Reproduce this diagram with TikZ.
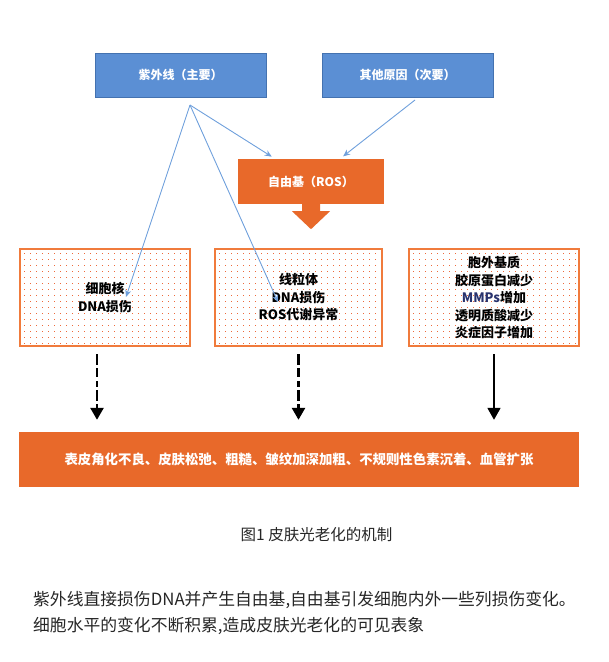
\documentclass[tikz,border=0pt]{standalone}
\usepackage{fontspec}
\setmainfont{Noto Sans CJK SC}
\usetikzlibrary{arrows.meta,positioning,calc}

\definecolor{uvblue}{HTML}{5B8FD4}
\definecolor{uvedge}{HTML}{4472B0}
\definecolor{rosorange}{HTML}{E8692A}
\definecolor{boxorange}{HTML}{F07B3C}
\definecolor{dotorange}{HTML}{EE6A3A}
\definecolor{linkblue}{HTML}{6FA0DC}
\definecolor{mmpblue}{HTML}{28336E}
\definecolor{notegray}{HTML}{262626}

\begin{document}
\begin{tikzpicture}[x=1pt,y=-1pt,
			cause/.style={draw=uvedge,fill=uvblue,line width=0.8pt,minimum width=171pt,minimum height=44pt,
				text=white,font=\fontsize{12}{14}\selectfont\bfseries},
			rosbox/.style={fill=rosorange,minimum width=146pt,minimum height=45pt,
				text=white,font=\fontsize{12}{14}\selectfont\bfseries},
			% dotted stage boxes: dot grid drawn inside
			stagebox/.style={fill=white,minimum width=170pt,minimum height=97pt,align=center,
				font=\fontsize{13}{17.5}\selectfont\bfseries,
				path picture={\foreach \dx in {4,10,...,172} \foreach \dy in {4,10,...,100}
					\fill[dotorange] ($(path picture bounding box.north west)+(\dx,\dy)$) rectangle ++(1.3,1.3);}},
			stageedge/.style={draw=boxorange,line width=1.6pt},
			effectbar/.style={fill=rosorange,minimum width=560pt,minimum height=55pt,
				text=white,font=\fontsize{13.4}{16}\selectfont\bfseries},
			link/.style={draw=linkblue,line width=0.9pt,-{Stealth[length=7pt,width=6pt]}},
			dashflow/.style={line width=2.6pt,dash pattern=on 11pt off 3pt on 9pt off 4pt on 6pt off 3pt,
				-{Triangle[length=12pt,width=13pt]}},
			flow/.style={line width=1.8pt,-{Triangle[length=12pt,width=13pt]}}
		]
		\useasboundingbox (0,0) rectangle (609,662);

		\node[cause] (uv) at (180.5,75) {紫外线（主要）};
		\node[cause] (other) at (407.5,75) {其他原因（次要）};
		\node[rosbox] (ros) at (311,181.5) {自由基（ROS）};
		\fill[rosorange] ([xshift=-9pt]ros.south) -- ++(18,0) -- ++(0,7) -- ++(10,0)
			-- ++(-19,18) -- ++(-19,-18) -- ++(10,0) -- cycle;

		\node[stagebox] (nucleus) at (105,297.5) {细胞核\\DNA损伤};
		\node[stagebox,minimum width=167pt] (mito) at (298.5,297.5) {线粒体\\DNA损伤\\ROS代谢异常};
		\node[stagebox] (ecm) at (494,297.5) {胞外基质\\胶原蛋白减少\\{\color{mmpblue}MMPs}增加\\透明质酸减少\\炎症因子增加};
		\foreach \b in {nucleus,mito,ecm}
			\draw[stageedge] (\b.north west) rectangle (\b.south east);

		\node[effectbar] (effects) at (299,459.5) {表皮角化不良、皮肤松弛、粗糙、皱纹加深加粗、不规则性色素沉着、血管扩张};

		\coordinate (uvsrc) at (190,105);
		\coordinate (othsrc) at (415,100);
		\coordinate (nucleustip) at (126,297);
		\coordinate (mitotip) at (278,302);

		\draw[link,shorten >=4pt] (uvsrc) -- (ros);
		\draw[link,shorten >=4pt] (othsrc) -- (ros);
		\draw[link] (uvsrc) -- (nucleustip);
		\draw[link] (uvsrc) -- (mitotip);

		\draw[dashflow,shorten <=8pt,shorten >=12pt] ([xshift=-8pt]nucleus.south) -- ([xshift=-8pt]nucleus.south |- effects.north);
		\draw[dashflow,shorten <=8pt,shorten >=12pt] (mito.south) -- (mito.south |- effects.north);
		\draw[flow,shorten <=8pt,shorten >=12pt] (ecm.south) -- (ecm.south |- effects.north);

		\node[text=notegray,font=\fontsize{15.5}{18}\selectfont] (caption) at (316.5,535) {图1 皮肤光老化的机制};
		\node[text=notegray,anchor=west,align=left,inner sep=0pt,font=\fontsize{16.8}{26}\selectfont] (note) at (33,613)
			{紫外线直接损伤DNA并产生自由基,自由基引发细胞内外一些列损伤变化。\\细胞水平的变化不断积累,造成皮肤光老化的可见表象};
	\end{tikzpicture}
\end{document}
